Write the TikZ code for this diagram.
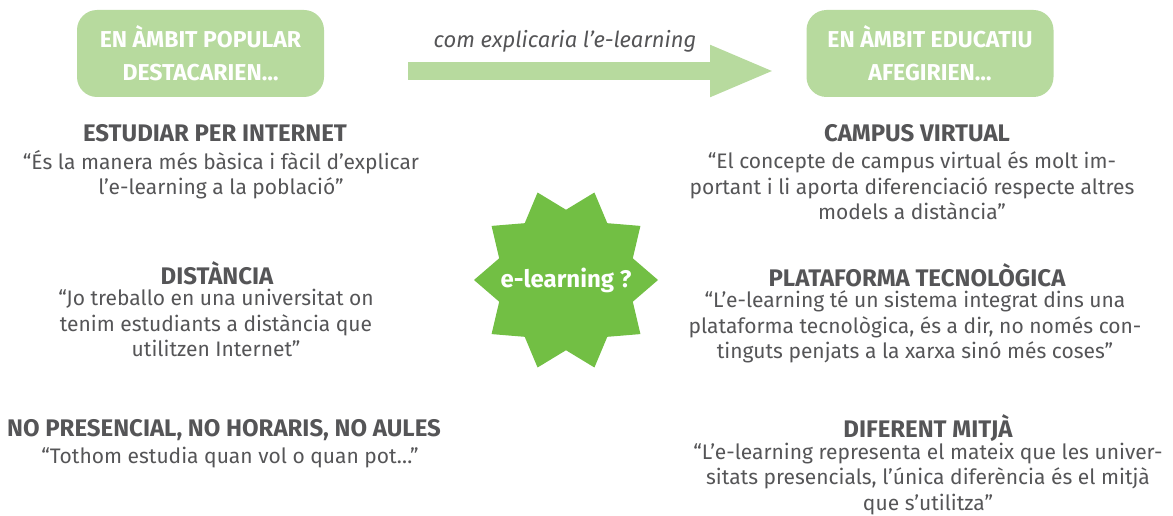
\documentclass[tikz,border=0pt]{standalone}
\usepackage{fontspec}
\setmainfont{Fira Sans}
\usepackage{tikz}
\usetikzlibrary{arrows.meta,shapes.geometric}

\definecolor{lightgreen}{HTML}{B7DA9E}
\definecolor{stargreen}{HTML}{72BF44}
\definecolor{textgray}{HTML}{555557}

\begin{document}
\begin{tikzpicture}[
    % one unit is one pixel of the reference, y grows downwards
    x=1pt, y=-1pt,
    % rounded header boxes
    headbox/.style = {fill=lightgreen, rounded corners=20pt, minimum width=247pt,
        minimum height=87pt, inner sep=0pt, align=center, text=white,
        font=\fontsize{23}{33}\selectfont\bfseries},
    % block arrow
    bigarrow/.style = {draw=lightgreen, line width=18pt,
        -{Triangle[length=65pt, width=47pt]}},
    burst/.style = {star, star points=10, star point ratio=1.31,
        shape border rotate=18, fill=stargreen, minimum size=184pt, inner sep=0pt},
    bursttext/.style = {text=white, font=\fontsize{24}{26}\selectfont\bfseries},
    title/.style = {text=textgray, font=\fontsize{24}{26}\selectfont\bfseries},
    quote/.style = {text=textgray, align=center, inner sep=0pt,
        font=\fontsize{21}{25.3}\selectfont}
    ]

    \useasboundingbox (0,0) rectangle (1173,516);

    \coordinate (A1) at (408,71);
    \coordinate (A2) at (775,71);

    % header boxes
    \node (Popular)  [headbox] at (200.5,53.5) {EN ÀMBIT POPULAR\\DESTACARIEN…};
    \node (Educatiu) [headbox] at (930,53.5)   {EN ÀMBIT EDUCATIU\\AFEGIRIEN…};

    % arrow
    \draw[bigarrow] (A1) -- (A2);
    \node (Question) [text=textgray, font=\fontsize{22}{24}\selectfont\itshape]
        at (565,41) {com explicaria l’e-learning};

    % star
    \node (Star) [burst] at (566,280) {};
    \node (StarText) [bursttext] at (Star) {e-learning ?};

    % left column
    \node (T1) [title] at (215,133) {ESTUDIAR PER INTERNET};
    \node (Q1) [quote] at (221,174.5) {“És la manera més bàsica i fàcil d’explicar\\l’e-learning a la població”};

    \node (T2) [title] at (217,273) {DISTÀNCIA};
    \node (Q2) [quote] at (216,323) {“Jo treballo en una universitat on\\tenim estudiants a distància que\\utilitzen Internet”};

    \node (T3) [title] at (224,430) {NO PRESENCIAL, NO HORARIS, NO AULES};
    \node (Q3) [quote] at (230,458) {“Tothom estudia quan vol o quan pot…”};

    % right column
    \node (T4) [title] at (917,133) {CAMPUS VIRTUAL};
    \node (Q4) [quote] at (912,186) {“El concepte de campus virtual és molt im-\\portant i li aporta diferenciació respecte altres\\models a distància”};

    \node (T5) [title] at (917,275) {PLATAFORMA TECNOLÒGICA};
    \node (Q5) [quote] at (915,327) {“L’e-learning té un sistema integrat dins una\\plataforma tecnològica, és a dir, no només con-\\tinguts penjats a la xarxa sinó més coses”};

    \node (T6) [title] at (928,428) {DIFERENT MITJÀ};
    \node (Q6) [quote] at (928,479) {“L’e-learning representa el mateix que les univer-\\sitats presencials, l’única diferència és el mitjà\\que s’utilitza”};
\end{tikzpicture}
\end{document}
